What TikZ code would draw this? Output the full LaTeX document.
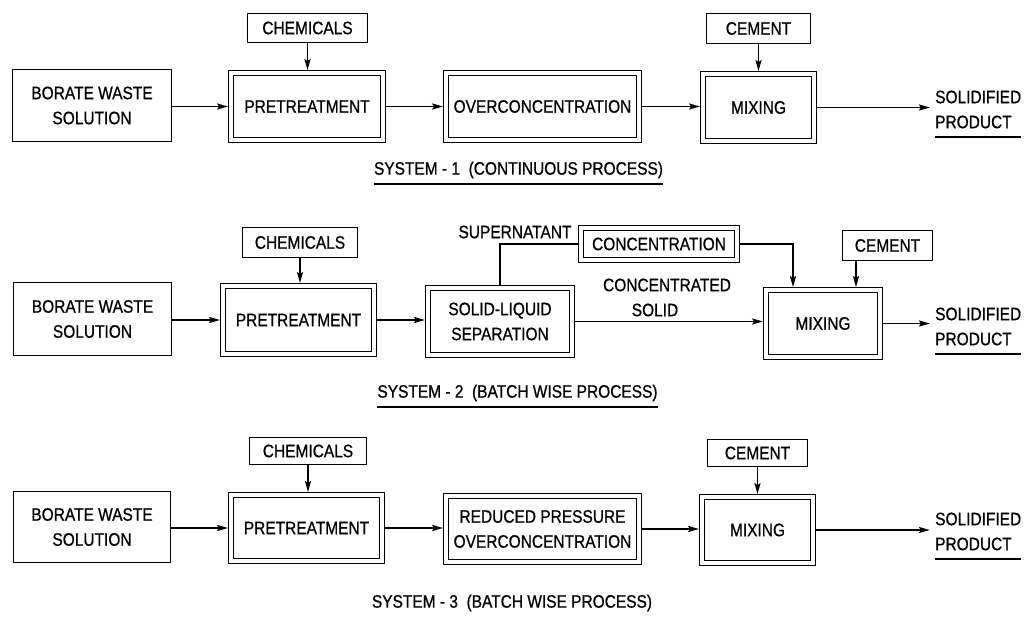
\documentclass[tikz,border=0pt]{standalone}
\usepackage{fontspec}
\setmainfont{Liberation Sans}[FakeStretch=0.86,FakeBold=0.8]
\usetikzlibrary{arrows.meta}
\begin{document}
\begin{tikzpicture}[x=1pt,y=-1pt,
  every node/.style={font=\fontsize{18}{25}\selectfont, align=center, text=black},
  sbox/.style={draw, line width=1.5pt, inner sep=0pt},
  dbox/.style={draw, double, double distance=3.2pt, line width=1.3pt, outer sep=2.9pt, inner sep=0pt},
  arr/.style={line width=1.8pt, -{Stealth[length=11pt,width=6pt,inset=2pt]}},
  ln/.style={line width=1.7pt},
  uline/.style={line width=1.4pt},
  plain/.style={inner sep=0pt}
]
\useasboundingbox[fill=white] (0,0) rectangle (1026,618);

% ---------- System 1 ----------
\node[sbox, minimum width=159pt, minimum height=72pt] (b1) at (92,105.5) {BORATE WASTE\\SOLUTION};
\node[sbox, minimum width=120pt, minimum height=29pt] (c1) at (307.5,28) {CHEMICALS};
\node[dbox, minimum width=152pt, minimum height=67pt] (p1) at (307,106.5) {PRETREATMENT};
\node[dbox, minimum width=193pt, minimum height=67pt] (o1) at (542.5,106.5) {OVERCONCENTRATION};
\node[dbox, minimum width=111pt, minimum height=67pt] (m1) at (758.5,107.5) {MIXING};
\node[sbox, minimum width=104pt, minimum height=30pt] (e1) at (758.5,28.5) {CEMENT};
\node[plain, anchor=west, align=left] (s1) at (935,109.5) {SOLIDIFIED\\PRODUCT};
\node[plain] (t1) at (518.5,170) {SYSTEM - 1\ \ (CONTINUOUS PROCESS)};

\draw[arr] (b1.east |- p1.west) -- (p1.west);
\draw[arr] (p1.east) -- (p1.east -| o1.west);
\draw[arr] (o1.east) -- (o1.east -| m1.west);
\draw[arr] (m1.east) -- ([xshift=-5pt]m1.east -| s1.west);
\draw[arr] (c1) -- (c1 |- p1.north);
\draw[arr] (e1) -- (e1 |- m1.north);
\draw[uline] ([yshift=-8.5pt]s1.south west) -- ([yshift=-8.5pt]s1.south east);
\draw[uline] ([yshift=-5.5pt]t1.south west) -- ([yshift=-5.5pt]t1.south east);

% ---------- System 2 ----------
\node[sbox, minimum width=158pt, minimum height=73pt] (b2) at (92.5,319) {BORATE WASTE\\SOLUTION};
\node[sbox, minimum width=115pt, minimum height=30pt] (c2) at (300,242.5) {CHEMICALS};
\node[dbox, minimum width=151pt, minimum height=68pt] (p2) at (298.5,320) {PRETREATMENT};
\node[dbox, minimum width=144pt, minimum height=67pt] (sl2) at (500,321.5) {SOLID-LIQUID\\SEPARATION};
\node[dbox, minimum width=156pt, minimum height=32pt] (cc2) at (659,244) {CONCENTRATION};
\node[sbox, minimum width=90pt, minimum height=30pt] (e2) at (887.5,245.5) {CEMENT};
\node[dbox, minimum width=114pt, minimum height=67pt] (m2) at (823,323.5) {MIXING};
\node[plain, anchor=west, align=left] (s2) at (935,326.5) {SOLIDIFIED\\PRODUCT};
\node[plain] (sup) at (515,232) {SUPERNATANT};
\node[plain] (cs1) at (667,285) {CONCENTRATED};
\node[plain] (cs2) at (655,310) {SOLID};
\node[plain] (t2) at (517.5,393) {SYSTEM - 2\ \ (BATCH WISE PROCESS)};

\draw[arr] (b2.east |- p2.west) -- (p2.west);
\draw[arr] (p2.east) -- (p2.east -| sl2.west);
\draw[ln] (sl2.north) -- (sl2.north |- cc2.west) -- (cc2.west);
\draw[arr] (cc2.east) -| ([xshift=-30pt]m2.north);
\draw[arr] ([xshift=-31.5pt]e2.south) -- ([xshift=-31.5pt]e2.south |- m2.north);
\draw[arr] (c2) -- (c2 |- p2.north);
\draw[arr] (sl2.east) -- (sl2.east -| m2.west);
\draw[arr] (m2.east) -- ([xshift=-5pt]m2.east -| s2.west);
\draw[uline] ([yshift=-8.5pt]s2.south west) -- ([yshift=-8.5pt]s2.south east);
\draw[uline] ([yshift=-5.5pt]t2.south west) -- ([yshift=-5.5pt]t2.south east);

% ---------- System 3 ----------
\node[sbox, minimum width=157pt, minimum height=71pt] (b3) at (92,527) {BORATE WASTE\\SOLUTION};
\node[sbox, minimum width=117pt, minimum height=27pt] (c3) at (308,451) {CHEMICALS};
\node[dbox, minimum width=151pt, minimum height=66pt] (p3) at (306.5,528) {PRETREATMENT};
\node[dbox, minimum width=193pt, minimum height=66pt] (r3) at (542.5,529) {REDUCED PRESSURE\\OVERCONCENTRATION};
\node[sbox, minimum width=100pt, minimum height=27pt] (e3) at (757.5,453) {CEMENT};
\node[dbox, minimum width=111pt, minimum height=66pt] (m3) at (757.5,530) {MIXING};
\node[plain, anchor=west, align=left] (s3) at (935,531.5) {SOLIDIFIED\\PRODUCT};
\node[plain] (t3) at (512,603) {SYSTEM - 3\ \ (BATCH WISE PROCESS)};

\draw[arr] (b3.east |- p3.west) -- (p3.west);
\draw[arr] (p3.east) -- (p3.east -| r3.west);
\draw[arr] (r3.east) -- (r3.east -| m3.west);
\draw[arr] (m3.east) -- ([xshift=-5pt]m3.east -| s3.west);
\draw[arr] (c3) -- (c3 |- p3.north);
\draw[arr] (e3) -- (e3 |- m3.north);
\draw[uline] ([yshift=-8.5pt]s3.south west) -- ([yshift=-8.5pt]s3.south east);
\end{tikzpicture}
\end{document}
